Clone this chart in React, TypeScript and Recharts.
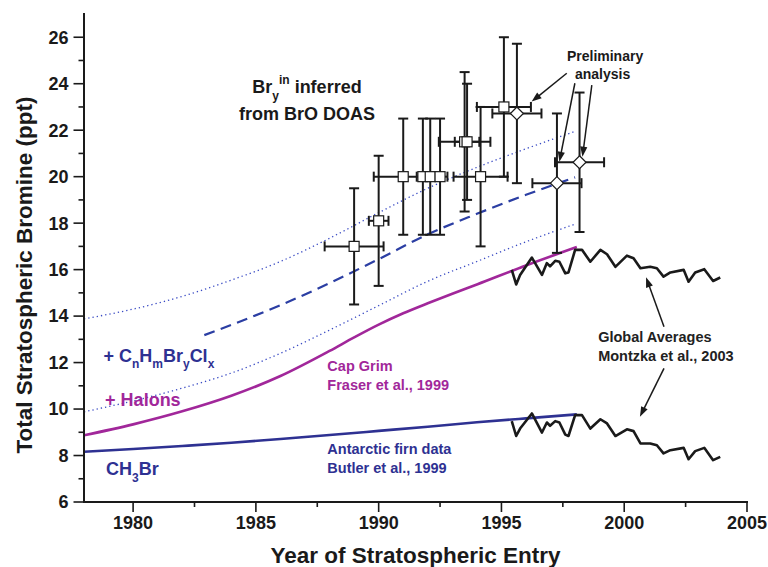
import React from 'react';
import {
  ComposedChart,
  Line,
  Scatter,
  XAxis,
  YAxis,
  ErrorBar,
  ReferenceLine,
  ReferenceDot,
} from 'recharts';

const FONT = '"Liberation Sans", Arial, Helvetica, sans-serif';
const INK = '#1a1a1a';
const BLUE = '#2e3192';
const MAGENTA = '#a1279a';
const DASH_BLUE = '#2b3ea3';
const DOT_BLUE = '#3a4bc4';

// ---- axis ticks ----
const xTicks = [1980, 1982.5, 1985, 1987.5, 1990, 1992.5, 1995, 1997.5, 2000, 2002.5, 2005];
const yTicks = [6, 7, 8, 9, 10, 11, 12, 13, 14, 15, 16, 17, 18, 19, 20, 21, 22, 23, 24, 25, 26];

// ---- smooth model curves ----
const ch3brYears = [1978, 1980, 1982, 1984, 1986, 1988, 1990, 1992, 1994, 1996, 1998.07];
const ch3brValues = [8.16, 8.28, 8.41, 8.55, 8.71, 8.88, 9.06, 9.24, 9.43, 9.6, 9.77];

const halonYears = [1978, 1980, 1982, 1984, 1986, 1988, 1989, 1990, 1991, 1992, 1993, 1994, 1996, 1998.07];
const halonValues = [8.87, 9.34, 9.9, 10.57, 11.42, 12.5, 13.08, 13.63, 14.12, 14.55, 14.96, 15.36, 16.18, 16.97];

const totalYears = [1982.9, 1984, 1986, 1988, 1990, 1992, 1994, 1996, 1998];
const totalValues = [13.18, 13.62, 14.47, 15.42, 16.45, 17.52, 18.4, 19.22, 19.97];

const bandYears = [1978, 1980, 1982, 1984, 1986, 1988, 1990, 1992, 1994, 1996, 1998];
const upperValues = [13.88, 14.3, 14.85, 15.55, 16.35, 17.35, 18.45, 19.5, 20.4, 21.2, 21.95];
const lowerValues = [9.88, 10.35, 10.9, 11.55, 12.4, 13.4, 14.45, 15.5, 16.35, 17.2, 17.96];

// ---- global averages (Montzka et al., 2003) ----
const gaYears = [
  1995.42, 1995.6, 1995.76, 1996.24, 1996.65, 1996.85, 1996.98, 1997.19, 1997.36, 1997.6,
  1997.73, 1998.0, 1998.28, 1998.62, 1999.03, 1999.3, 1999.64, 2000.11, 2000.38, 2000.66,
  2001.06, 2001.33, 2001.6, 2001.88, 2002.42, 2002.62, 2002.89, 2003.26, 2003.62, 2003.91,
];
const gaTotalValues = [
  15.99, 15.36, 15.77, 16.52, 15.77, 16.28, 16.14, 16.38, 16.34, 15.84,
  15.88, 16.85, 16.85, 16.34, 16.85, 16.66, 16.12, 16.6, 16.49, 16.06,
  16.12, 16.06, 15.7, 15.88, 15.99, 15.48, 15.88, 16.02, 15.51, 15.66,
];
const gaCh3brValues = [
  9.48, 8.84, 9.16, 9.81, 8.99, 9.42, 9.28, 9.48, 9.42, 8.9,
  8.84, 9.74, 9.74, 9.16, 9.56, 9.38, 8.84, 9.13, 9.05, 8.52,
  8.52, 8.44, 8.09, 8.23, 8.33, 7.84, 8.19, 8.33, 7.8, 7.94,
];

// ---- Bry inferred from BrO DOAS ----
const sqYears = [1989.0, 1990.0, 1991.0, 1991.8, 1992.1, 1992.5, 1993.5, 1993.6, 1994.15, 1995.1];
const sqValues = [17.0, 18.1, 20.0, 20.0, 20.0, 20.0, 21.5, 21.5, 20.0, 23.0];
const sqYErr = [2.5, 2.8, 2.5, 2.5, 2.5, 2.5, 3.0, 2.5, 3.0, 3.0];
const sqXErr = [1.2, 0.4, 1.2, 0.25, 0.25, 0.3, 1.05, 0.5, 1.1, 1.1];

// preliminary analysis
const dmYears = [1995.63, 1997.26, 1998.18];
const dmValues = [22.72, 19.72, 20.62];
const dmYErr = [3.0, 3.0, 3.0];
const dmXErr = [1.0, 1.0, 1.0];

const toXY = (xs: number[], ys: number[]) => xs.map((x, i) => ({ x, y: ys[i] }));

const ch3brData = toXY(ch3brYears, ch3brValues);
const halonData = toXY(halonYears, halonValues);
const totalData = toXY(totalYears, totalValues);
const upperData = toXY(bandYears, upperValues);
const lowerData = toXY(bandYears, lowerValues);
const gaTotalData = toXY(gaYears, gaTotalValues);
const gaCh3brData = toXY(gaYears, gaCh3brValues);
const squareData = sqYears.map((x, i) => ({ x, y: sqValues[i], ex: sqXErr[i], ey: sqYErr[i] }));
const diamondData = dmYears.map((x, i) => ({ x, y: dmValues[i], ex: dmXErr[i], ey: dmYErr[i] }));

// ---- ticks ----
const tickText = { fontFamily: FONT, fontWeight: 700, fontSize: 18, fill: INK } as const;

const BottomTick = (p: any) => {
  const v = p.payload.value;
  const major = v % 5 === 0;
  return (
    <g>
      <line x1={p.x} x2={p.x} y1={p.y} y2={p.y + (major ? 10 : 5)} stroke={INK} strokeWidth={1.6} />
      {major && (
        <text x={p.x} y={p.y + 26.5} textAnchor="middle" {...tickText}>
          {v}
        </text>
      )}
    </g>
  );
};
const TopTick = (p: any) => {
  const v = p.payload.value;
  const major = v % 5 === 0;
  return <line x1={p.x} x2={p.x} y1={p.y} y2={p.y + (major ? 10 : 5)} stroke={INK} strokeWidth={1.6} />;
};
const LeftTick = (p: any) => {
  const v = p.payload.value;
  const major = v % 2 === 0;
  return (
    <g>
      <line x1={p.x - (major ? 10.5 : 5.5)} x2={p.x} y1={p.y} y2={p.y} stroke={INK} strokeWidth={1.6} />
      {major && (
        <text x={p.x - 15.5} y={p.y + 6.4} textAnchor="end" {...tickText}>
          {v}
        </text>
      )}
    </g>
  );
};
const RightTick = (p: any) => {
  const v = p.payload.value;
  const major = v % 2 === 0;
  return <line x1={p.x - (major ? 10 : 5)} x2={p.x} y1={p.y} y2={p.y} stroke={INK} strokeWidth={1.6} />;
};

const axisLineStyle = { stroke: INK, strokeWidth: 2, strokeLinecap: 'square' as const };

const XTitle = (props: any) => {
  const vb = props.viewBox || { x: 84, y: 502, width: 663 };
  return (
    <text x={vb.x + vb.width / 2} y={vb.y + 61} textAnchor="middle" fontFamily={FONT} fontWeight={700} fontSize={22.5} fill={INK}>
      Year of Stratospheric Entry
    </text>
  );
};
const YTitle = (props: any) => {
  const vb = props.viewBox || { x: 24, y: 14, height: 488 };
  const cx = vb.x + 7.5;
  const cy = vb.y + vb.height / 2 + 17;
  return (
    <text x={cx} y={cy} transform={`rotate(-90, ${cx}, ${cy})`} textAnchor="middle" fontFamily={FONT} fontWeight={700} fontSize={22.5} fill={INK}>
      Total Stratospheric Bromine (ppt)
    </text>
  );
};

// ---- marks ----
const SquareShape = (p: any) => (
  <rect x={p.cx - 5} y={p.cy - 5} width={10} height={10} fill="#fff" stroke={INK} strokeWidth={1.2} />
);
const DiamondShape = (p: any) => (
  <polygon
    points={`${p.cx},${p.cy - 6.5} ${p.cx + 6.5},${p.cy} ${p.cx},${p.cy + 6.5} ${p.cx - 6.5},${p.cy}`}
    fill="#fff"
    stroke={INK}
    strokeWidth={1.2}
  />
);

const Arrow = (p: any) => {
  const x1 = Number(p.x1), y1 = Number(p.y1), x2 = Number(p.x2), y2 = Number(p.y2);
  const dx = x2 - x1, dy = y2 - y1;
  const len = Math.hypot(dx, dy) || 1;
  const ux = dx / len, uy = dy / len;
  const hl = 10, hw = 3.6;
  const bx = x2 - ux * hl, by = y2 - uy * hl;
  return (
    <g>
      <line x1={x1} y1={y1} x2={bx + ux * 2} y2={by + uy * 2} stroke={INK} strokeWidth={1.5} />
      <polygon points={`${x2},${y2} ${bx - uy * hw},${by + ux * hw} ${bx + uy * hw},${by - ux * hw}`} fill={INK} />
    </g>
  );
};

const txt = { fontFamily: FONT, fontWeight: 700 } as const;

const BrText = (p: any) => (
  <text x={p.cx} y={p.cy} textAnchor="middle" {...txt} fontSize={18} fill={INK} style={{ whiteSpace: 'pre' }}>
    <tspan x={p.cx}>
      Br
      <tspan fontSize={12} dy={6.7}>y</tspan>
      <tspan fontSize={12} dy={-16}>in</tspan>
      <tspan dy={9.3}> inferred</tspan>
    </tspan>
    <tspan x={p.cx} dy={26.7}>from BrO DOAS</tspan>
  </text>
);
const PrelimText = (p: any) => (
  <text x={p.cx} y={p.cy} textAnchor="middle" {...txt} fontSize={14} fill={INK}>
    <tspan x={p.cx}>Preliminary</tspan>
    <tspan x={p.cx - 2.5} dy={18.5}>analysis</tspan>
  </text>
);
const GlobalText = (p: any) => (
  <text x={p.cx} y={p.cy} {...txt} fontSize={14.5} fill="#222">
    <tspan x={p.cx}>Global Averages</tspan>
    <tspan x={p.cx} dy={19}>Montzka et al., 2003</tspan>
  </text>
);
const CapGrimText = (p: any) => (
  <text x={p.cx} y={p.cy} {...txt} fontSize={14.5} fill={MAGENTA}>
    <tspan x={p.cx}>Cap Grim</tspan>
    <tspan x={p.cx} dy={18.6}>Fraser et al., 1999</tspan>
  </text>
);
const FirnText = (p: any) => (
  <text x={p.cx} y={p.cy} {...txt} fontSize={14.5} fill={BLUE}>
    <tspan x={p.cx}>Antarctic firn data</tspan>
    <tspan x={p.cx} dy={18.3}>Butler et al., 1999</tspan>
  </text>
);
const OrganicText = (p: any) => (
  <text x={p.cx} y={p.cy} {...txt} fontSize={18} fill={BLUE} style={{ whiteSpace: 'pre' }}>
    + C<tspan fontSize={12} dy={6.6}>n</tspan>
    <tspan dy={-6.6}>H</tspan>
    <tspan fontSize={12} dy={6.6}>m</tspan>
    <tspan dy={-6.6}>Br</tspan>
    <tspan fontSize={12} dy={6.6}>y</tspan>
    <tspan dy={-6.6}>Cl</tspan>
    <tspan fontSize={12} dy={6.6}>x</tspan>
  </text>
);
const HalonText = (p: any) => (
  <text x={p.cx} y={p.cy} {...txt} fontSize={18} fill={MAGENTA} style={{ whiteSpace: 'pre' }}>
    + Halons
  </text>
);
const Ch3brText = (p: any) => (
  <text x={p.cx} y={p.cy} {...txt} fontSize={18} fill={BLUE}>
    CH<tspan fontSize={12} dy={6.5}>3</tspan>
    <tspan dy={-6.5}>Br</tspan>
  </text>
);

export default function App() {
  const ax = { xAxisId: 'b', yAxisId: 'l' };
  return (
    <div style={{ position: 'absolute', left: 0, top: 0 }}>
      <ComposedChart width={768} height={567} margin={{ top: 14, right: 21, bottom: 25, left: 24 }}>
        <XAxis
          xAxisId="b"
          type="number"
          dataKey="x"
          domain={[1978, 2005]}
          allowDataOverflow
          ticks={xTicks}
          interval={0}
          tickLine={false}
          tickSize={0}
          tickMargin={0}
          tick={BottomTick}
          axisLine={axisLineStyle}
          height={40}
          label={XTitle}
        />
        <XAxis
          xAxisId="t"
          orientation="top"
          type="number"
          dataKey="x"
          domain={[1978, 2005]}
          allowDataOverflow
          ticks={xTicks}
          interval={0}
          tickLine={false}
          tickSize={0}
          tickMargin={0}
          tick={TopTick}
          axisLine={axisLineStyle}
          height={0}
        />
        <YAxis
          yAxisId="l"
          type="number"
          dataKey="y"
          domain={[6, 27]}
          allowDataOverflow
          ticks={yTicks}
          interval={0}
          tickLine={false}
          tickSize={0}
          tickMargin={0}
          tick={LeftTick}
          axisLine={axisLineStyle}
          width={60}
          label={YTitle}
        />
        <YAxis
          yAxisId="r"
          orientation="right"
          type="number"
          dataKey="y"
          domain={[6, 27]}
          allowDataOverflow
          ticks={yTicks}
          interval={0}
          tickLine={false}
          tickSize={0}
          tickMargin={0}
          tick={RightTick}
          axisLine={axisLineStyle}
          width={0}
        />

        <Line {...ax} data={upperData} dataKey="y" type="monotone" stroke={DOT_BLUE} strokeWidth={1.3} strokeDasharray="1.3 3" dot={false} isAnimationActive={false} />
        <Line {...ax} data={lowerData} dataKey="y" type="monotone" stroke={DOT_BLUE} strokeWidth={1.3} strokeDasharray="1.3 3" dot={false} isAnimationActive={false} />
        <Line {...ax} data={totalData} dataKey="y" type="monotone" stroke={DASH_BLUE} strokeWidth={2.2} strokeDasharray="11 6.5" dot={false} isAnimationActive={false} />
        <Line {...ax} data={halonData} dataKey="y" type="monotone" stroke={MAGENTA} strokeWidth={2.6} dot={false} isAnimationActive={false} />
        <Line {...ax} data={ch3brData} dataKey="y" type="monotone" stroke={BLUE} strokeWidth={2.6} dot={false} isAnimationActive={false} />
        <Line {...ax} data={gaTotalData} dataKey="y" type="linear" stroke={INK} strokeWidth={2.6} strokeLinejoin="round" dot={false} isAnimationActive={false} />
        <Line {...ax} data={gaCh3brData} dataKey="y" type="linear" stroke={INK} strokeWidth={2.6} strokeLinejoin="round" dot={false} isAnimationActive={false} />

        <Scatter {...ax} data={squareData} shape={SquareShape} isAnimationActive={false}>
          <ErrorBar dataKey="ey" direction="y" width={5} stroke={INK} strokeWidth={2} />
          <ErrorBar dataKey="ex" direction="x" width={5} stroke={INK} strokeWidth={2} />
        </Scatter>
        <Scatter {...ax} data={diamondData} shape={DiamondShape} isAnimationActive={false}>
          <ErrorBar dataKey="ey" direction="y" width={5} stroke={INK} strokeWidth={2} />
          <ErrorBar dataKey="ex" direction="x" width={5} stroke={INK} strokeWidth={2} />
        </Scatter>

        <ReferenceLine {...ax} segment={[{ x: 1997.66, y: 24.45 }, { x: 1996.23, y: 23.23 }]} shape={Arrow} />
        <ReferenceLine {...ax} segment={[{ x: 1997.99, y: 24.02 }, { x: 1997.36, y: 20.64 }]} shape={Arrow} />
        <ReferenceLine {...ax} segment={[{ x: 1998.68, y: 23.94 }, { x: 1998.3, y: 20.86 }]} shape={Arrow} />
        <ReferenceLine {...ax} segment={[{ x: 2001.62, y: 13.54 }, { x: 2000.89, y: 15.67 }]} shape={Arrow} />
        <ReferenceLine {...ax} segment={[{ x: 2001.62, y: 11.75 }, { x: 2000.64, y: 9.67 }]} shape={Arrow} />

        <ReferenceDot {...ax} x={1987.08} y={23.59} shape={BrText} />
        <ReferenceDot {...ax} x={1999.22} y={24.98} shape={PrelimText} />
        <ReferenceDot {...ax} x={1998.94} y={12.88} shape={GlobalText} />
        <ReferenceDot {...ax} x={1987.91} y={11.62} shape={CapGrimText} />
        <ReferenceDot {...ax} x={1987.91} y={8.05} shape={FirnText} />
        <ReferenceDot {...ax} x={1978.79} y={12.04} shape={OrganicText} />
        <ReferenceDot {...ax} x={1978.86} y={10.11} shape={HalonText} />
        <ReferenceDot {...ax} x={1978.9} y={7.16} shape={Ch3brText} />
      </ComposedChart>
    </div>
  );
}
